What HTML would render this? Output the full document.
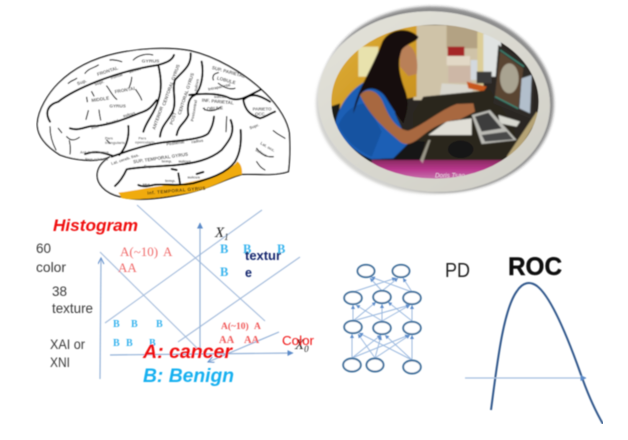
<!DOCTYPE html>
<html><head><meta charset="utf-8"><style>
html,body{margin:0;padding:0;background:#fff}
svg{display:block}
text{font-family:"Liberation Sans",sans-serif}
.s{font-family:"Liberation Serif",serif}
</style></head><body>
<svg width="628" height="440" viewBox="0 0 628 440" xmlns="http://www.w3.org/2000/svg">
<defs>
<filter id="all" x="0" y="0" width="100%" height="100%"><feGaussianBlur stdDeviation="0.4"/></filter>
<filter id="b1" x="-5%" y="-5%" width="110%" height="110%"><feGaussianBlur stdDeviation="1.5"/></filter>
<filter id="b3" x="-20%" y="-20%" width="140%" height="140%"><feGaussianBlur stdDeviation="4"/></filter>
<clipPath id="ph"><ellipse cx="405" cy="305" rx="311" ry="231"/></clipPath>
<linearGradient id="fr" x1="0" y1="0" x2="1" y2="1"><stop offset="0" stop-color="#e4e3da"/><stop offset="1" stop-color="#cfcec6"/></linearGradient>
<linearGradient id="mag" x1="0" y1="0" x2="0" y2="1"><stop offset="0" stop-color="#8a2a60"/><stop offset="0.45" stop-color="#b7368c"/><stop offset="1" stop-color="#c878b0"/></linearGradient>
<linearGradient id="ylw" x1="0" y1="0" x2="1" y2="1"><stop offset="0" stop-color="#e0b03a"/><stop offset="1" stop-color="#c8901c"/></linearGradient>
<marker id="a" markerWidth="7" markerHeight="7" refX="5.5" refY="3" orient="auto" markerUnits="userSpaceOnUse"><path d="M0,0L6,3L0,6z" fill="#5b8bc9"/></marker>
<marker id="n" markerWidth="5" markerHeight="5" refX="4" refY="2" orient="auto" markerUnits="userSpaceOnUse"><path d="M0,0L4,2L0,4z" fill="#5b8bc9"/></marker>
<marker id="o" markerWidth="9" markerHeight="8" refX="7" refY="3" orient="auto" markerUnits="userSpaceOnUse"><path d="M1,0L7,3L1,6" fill="none" stroke="#5b8bc9" stroke-width="1"/></marker>
</defs>
<g filter="url(#all)">
<!-- Brain -->
<g transform="translate(30,0) scale(.33333)">
<path d="M240,470C200,490 130,480 90,465C50,440 20,410 22,370C24,330 55,280 85,250C130,205 190,175 260,160C330,145 410,140 480,152C560,170 640,220 690,265C730,300 770,350 778,400C780,440 780,480 775,515C730,530 670,520 636,523C590,535 540,565 470,580C400,595 320,605 270,590C225,580 198,550 202,520C205,495 225,480 240,470Z" fill="#fff" stroke="#111" stroke-width="4"/>
<path d="M265,578C320,572 380,556 450,552C510,540 590,525 622,484C632,490 638,505 636,523C590,532 560,560 480,578C420,590 310,604 275,594Z" fill="#f0ab0f"/>
<g fill="none" stroke="#000" stroke-width="6" stroke-linecap="round" stroke-linejoin="round">
<path d="M60,365C45,340 50,315 85,305C130,270 250,215 385,195C400,190 425,185 432,165"/>
<path d="M385,195C395,240 395,270 385,300C375,340 350,360 340,395"/>
<path d="M482,160C485,200 455,215 435,240C425,270 440,300 430,330C420,360 395,370 390,410"/>
<path d="M515,185C522,220 515,265 495,285C480,290 470,310 475,345C465,370 445,375 440,405"/>
<path d="M478,285C520,280 570,280 600,295C630,305 650,290 690,270"/>
<path d="M640,300C660,280 680,280 720,305M640,300C645,330 660,345 690,355C710,350 720,340 735,335"/>
<path d="M120,385C150,395 170,375 200,378C260,370 300,350 340,335C355,330 365,320 380,300"/>
<path d="M245,470C300,450 360,430 420,425C470,420 520,415 535,400C545,385 550,370 552,350"/>
<path d="M602,360C618,400 595,425 575,450C540,480 490,490 440,495C390,500 330,500 290,508C280,530 270,545 255,558"/>
<path d="M632,390C635,430 630,460 615,485C590,520 540,535 490,550C440,560 400,550 370,555C350,560 335,560 325,555"/>
<path d="M250,468C225,460 200,450 165,462"/>
<path d="M295,378C298,410 290,440 268,465"/>
<path d="M500,522L520,516M425,507L440,510M445,520L450,550"/>
</g>
<g fill="none" stroke="#111" stroke-width="3.5" stroke-linecap="round">
<path d="M115,250C125,240 135,240 140,235M165,220C175,205 190,205 205,195M240,180C255,178 265,182 275,185M310,180C325,165 350,160 368,165"/>
<path d="M230,258C240,270 245,285 260,298M305,232C305,245 300,255 298,262M318,270C328,285 332,290 335,300"/>
<path d="M175,332C172,345 170,350 168,358M207,330C208,340 210,350 212,360M185,275L192,288M170,292L172,305"/>
<path d="M85,385L95,398M110,410C120,420 130,425 148,412M118,422C122,440 122,450 120,462M60,380C60,410 70,435 78,450"/>
<path d="M550,240C545,225 555,220 565,218M565,250C585,265 600,270 615,265M590,350L588,395"/>
<path d="M730,392C745,405 755,408 765,415M680,445C695,465 710,472 730,470M680,485C690,500 695,505 705,510"/>
<path d="M520,325C530,335 555,335 570,322M230,420L240,430"/>
</g>
<g fill="#555" font-size="14" font-weight="bold">
<text x="335" y="187" font-size="15">GYRUS</text>
<text x="203" y="228" transform="rotate(-18 203 228)">FRONTAL</text>
<text x="143" y="256" transform="rotate(-20 143 256)">Sup.</text>
<text x="195" y="257" font-size="12" transform="rotate(-18 195 257)">Supr.</text>
<text x="243" y="238" font-size="12" transform="rotate(-18 243 238)">frontal</text>
<text x="298" y="220" font-size="12" transform="rotate(-18 298 220)">sulcus</text>
<text x="185" y="306" transform="rotate(-8 185 306)">MIDDLE</text>
<text x="255" y="280" transform="rotate(-10 255 280)">FRONTAL</text>
<text x="238" y="322">GYRUS</text>
<text x="185" y="388" font-size="12" transform="rotate(-15 185 388)">Infr.</text>
<text x="230" y="375" font-size="12" transform="rotate(-15 230 375)">frontal</text>
<text x="280" y="352" font-size="12" transform="rotate(-15 280 352)">sulcus</text>
<text x="405" y="318" transform="rotate(-70 405 318)">CENTORAL GYRUS</text>
<text x="452" y="345" transform="rotate(-72 452 345)">CENTORAL GYRUS</text>
<text x="375" y="390" transform="rotate(-70 375 390)">ANTERIOR</text>
<text x="428" y="375" transform="rotate(-72 428 375)">POST</text>
<text x="490" y="365" font-size="12" transform="rotate(-80 490 365)">Postcentral</text>
<text x="500" y="275" font-size="12" transform="rotate(-80 500 275)">sulcus</text>
<text x="545" y="207" transform="rotate(15 545 207)">SUP. PARIETAL</text>
<text x="560" y="238" transform="rotate(15 560 238)">LOBULE</text>
<text x="535" y="272" font-size="12" transform="rotate(-12 535 272)">Intraparietal</text>
<text x="552" y="294" font-size="12">sulcus</text>
<text x="515" y="305" transform="rotate(5 515 305)">INF. PARIETAL</text>
<text x="522" y="332" transform="rotate(-4 522 332)">LOBULE</text>
<text x="668" y="332" font-size="13">PARIETO</text>
<text x="675" y="346" font-size="13">OCC.</text>
<text x="660" y="388" font-size="12" transform="rotate(-20 660 388)">Supr.</text>
<text x="690" y="432" font-size="12" transform="rotate(30 690 432)">Lat. occ.</text>
<text x="675" y="452" font-size="12" transform="rotate(30 675 452)">sulcus</text>
<text x="410" y="437" font-size="12" transform="rotate(-8 410 437)">Postlerial</text>
<text x="485" y="430" font-size="12" transform="rotate(-8 485 430)">radius</text>
<text x="245" y="495" font-size="12" transform="rotate(-18 245 495)">Lat. cereb. fiss.</text>
<text x="310" y="490" transform="rotate(-8 310 490)">SUP. TEMPORAL GYRUS</text>
<text x="342" y="502" font-size="12">Supr.</text>
<text x="395" y="487" font-size="12">temp.</text>
<text x="445" y="487" font-size="12">sulcus</text>
<text x="338" y="558" font-size="12">Mid.</text>
<text x="405" y="546" font-size="12">temp.</text>
<text x="472" y="535" font-size="12">sulcus</text>
<text x="150" y="460" font-size="11" fill="#777">Ant. horz. ramus</text>
<text x="165" y="482" font-size="11" fill="#777">Pars orbitalis</text>
<text x="225" y="418" font-size="11" fill="#777">Pars</text>
<text x="225" y="432" font-size="11" fill="#777">triangularis</text>
<text x="325" y="418" font-size="11" fill="#777">Pars</text>
<text x="315" y="430" font-size="11" fill="#777">opercularis</text>
</g>
<text x="352" y="584" font-size="14" font-weight="bold" fill="#4a3a10" transform="rotate(-5 352 584)" textLength="175">Inf. TEMPORAL GYRUS</text>
</g>

<!-- Photo -->
<g transform="translate(300,0) scale(.33333)">
<ellipse cx="412" cy="298" rx="350" ry="278" fill="#333" opacity=".55" filter="url(#b3)" transform="rotate(6 412 298)"/>
<ellipse cx="398" cy="310" rx="350" ry="272" fill="#9b9b95" opacity=".45" filter="url(#b3)"/>
<ellipse cx="402" cy="305" rx="348" ry="270" fill="url(#fr)" transform="rotate(4 402 305)"/>
<g clip-path="url(#ph)">
<g filter="url(#b1)">
<rect x="90" y="70" width="630" height="470" fill="#2a2620"/>
<rect x="340" y="75" width="210" height="225" fill="#cfc3a8"/>
<rect x="440" y="75" width="95" height="70" fill="#b3a283"/>
<rect x="548" y="100" width="55" height="130" fill="#e0e3e2"/>
<rect x="532" y="95" width="18" height="180" fill="#dccd98"/>
<path d="M90,340L90,190L250,90L350,70L350,290Z" fill="url(#ylw)"/>
<rect x="175" y="140" width="60" height="90" fill="#e8e2ad"/>
<rect x="443" y="140" width="50" height="28" fill="#a52525"/>
<rect x="440" y="168" width="70" height="28" fill="#e2d8c6"/>
<rect x="445" y="198" width="70" height="50" fill="#cdb7a6"/>
<rect x="512" y="180" width="20" height="60" fill="#d3d9de"/>
<rect x="530" y="215" width="45" height="35" fill="#3a3a3a"/>
<path d="M425,250L515,255L520,280L420,285Z" fill="#d9d7ce"/>
<path d="M500,245L560,260L550,275L505,265Z" fill="#c8591e"/>
<path d="M370,290L570,270L640,380L660,480L340,480L340,340Z" fill="#29251f"/>
<path d="M595,135L680,185L705,200L700,360L580,310Z" fill="#2d2a27"/>
<path d="M600,155L670,205L655,325L585,290Z" fill="#5a4533"/>
<ellipse cx="628" cy="235" rx="28" ry="45" fill="#a9a391"/>
<path d="M665,235L695,225L690,340L658,325Z" fill="#b2bfcc"/>
<path d="M600,150L672,200" stroke="#3d8a78" stroke-width="4" fill="none"/>
<path d="M585,290L655,326" stroke="#3d8a78" stroke-width="4" fill="none"/>
<path d="M595,345L660,365L650,380L600,370Z" fill="#d8d8d0"/>
<path d="M515,345L570,330L650,420L545,432Z" fill="#bcbbb5"/>
<path d="M525,350L565,338L605,385L545,395Z" fill="#3c3c3c"/>
<path d="M545,405L620,395L640,418L555,425Z" fill="#484848"/>
<path d="M385,405L440,365L515,355L515,405Z" fill="#e0ded6"/>
<ellipse cx="482" cy="448" rx="38" ry="26" fill="#131313"/>
<path d="M150,480L360,480L375,425L300,420L280,450Z" fill="#171717"/>
<path d="M90,320L120,310L115,375L90,375Z" fill="#1c1a14"/>
<path d="M105,375C115,310 160,250 240,225L285,250L285,340L325,430L280,475L215,478C170,460 125,425 105,375Z" fill="#1a5fb5"/>
<path d="M115,375C135,330 170,310 200,310L245,395L215,470C170,450 135,420 115,375Z" fill="#12498f" opacity=".55"/>
<path d="M180,285C200,260 235,270 250,310C270,360 295,390 325,392C370,375 420,330 470,312L520,310L525,335L480,358C440,360 400,380 370,405C340,430 320,440 300,425C260,390 210,350 180,285Z" fill="#a8673f"/>
<path d="M300,130C340,125 358,170 350,222L325,228L300,200Z" fill="#b98058"/>
<path d="M160,340C165,280 215,210 245,130C260,90 320,75 355,110C355,125 320,130 305,150C290,190 300,230 315,270C330,310 320,340 310,370C295,350 280,330 262,300C240,260 200,255 180,285Z" fill="#14100f"/>
<path d="M215,480H620V540H215Z" fill="url(#mag)"/>
<path d="M360,480L385,420L392,420L368,490Z" fill="#c9c4b4" opacity=".7"/>
<path d="M620,470L710,335L720,345L640,480Z" fill="#d8c38a" opacity=".8"/>
</g>
<text x="405" y="533" font-size="19" font-style="italic" fill="#ecdce8">Doris Tsao</text>
</g>
</g>

<!-- Diagram lines -->
<g fill="none" stroke="#a4bcdc" stroke-width="1.1">
<path d="M137,205L265,321"/>
<path d="M100,252L197,348"/>
<path d="M105,323L262,210"/>
<path d="M178,342L300,257"/>
</g>
<g fill="none" stroke="#94b2d8" stroke-width="1.2">
<path d="M100,379L101,258" marker-end="url(#o)"/>
<path d="M200,350L200,223" marker-end="url(#a)"/>
<path d="M110,355L293,353" marker-end="url(#a)"/>
<path d="M279,332L208,362" marker-end="url(#o)"/>
</g>

<!-- Diagram text -->
<text x="53" y="231" font-size="17" font-weight="bold" font-style="italic" fill="#f01010" textLength="85" lengthAdjust="spacingAndGlyphs">Histogram</text>
<g font-size="14" fill="#3a3a3a">
<text x="36" y="253" textLength="15" lengthAdjust="spacingAndGlyphs">60</text>
<text x="36" y="272" textLength="30" lengthAdjust="spacingAndGlyphs">color</text>
<text x="52" y="296" textLength="15" lengthAdjust="spacingAndGlyphs">38</text>
<text x="52" y="313" textLength="41" lengthAdjust="spacingAndGlyphs">texture</text>
<text x="50" y="349" textLength="35" lengthAdjust="spacingAndGlyphs">XAI or</text>
<text x="50" y="367" textLength="20" lengthAdjust="spacingAndGlyphs">XNI</text>
</g>
<g fill="#f06a6a" font-size="13">
<text class="s" x="120" y="256">A(~10)</text><text class="s" x="163" y="256">A</text>
<text class="s" x="118" y="272">AA</text>
</g>
<g fill="#f05a5a" font-size="9.5" font-weight="bold">
<text class="s" x="221" y="329">A(~10)</text><text class="s" x="254" y="329">A</text>
<text class="s" x="219" y="343" font-size="10.5">AA</text><text class="s" x="244" y="343" font-size="10.5">AA</text>
</g>
<g fill="#38b4ee" font-size="10" font-weight="bold">
<text class="s" x="113" y="327">B</text><text class="s" x="131" y="327">B</text><text class="s" x="156" y="327">B</text>
<text class="s" x="113" y="346">B</text><text class="s" x="126" y="346">B</text><text class="s" x="149" y="346">B</text>
</g>
<g fill="#38b4ee" font-size="12.5" font-weight="bold">
<text class="s" x="220" y="253">B</text><text class="s" x="243" y="253">B</text><text class="s" x="277" y="253">B</text>
<text class="s" x="220" y="276">B</text>
</g>
<g fill="#14286e" font-size="12.5" font-weight="bold">
<text x="245" y="260" textLength="36" lengthAdjust="spacingAndGlyphs">textur</text>
<text x="245" y="277">e</text>
</g>
<text class="s" x="215" y="237" font-size="15" font-style="italic" fill="#222">X<tspan font-size="9" dy="3">1</tspan></text>
<text class="s" x="295" y="349" font-size="15" font-style="italic" fill="#222">X<tspan font-size="9" dy="3">0</tspan></text>
<text x="282" y="345" font-size="12.5" fill="#f01010" textLength="32" lengthAdjust="spacingAndGlyphs">Color</text>
<text x="143" y="358" font-size="19.5" font-weight="bold" font-style="italic" fill="#f01010" textLength="89" lengthAdjust="spacingAndGlyphs">A: cancer</text>
<text x="143" y="382" font-size="19.5" font-weight="bold" font-style="italic" fill="#18b0f0" textLength="91" lengthAdjust="spacingAndGlyphs">B: Benign</text>

<!-- Network -->
<g fill="none" stroke="#9bb9df" stroke-width="1">
<path d="M353,292L396,278" marker-end="url(#n)"/>
<path d="M382,291L370,278" marker-end="url(#n)"/>
<path d="M382,291L398,278" marker-end="url(#n)"/>
<path d="M412,292L403,278" marker-end="url(#n)"/>
<path d="M412,292L371,277" marker-end="url(#n)"/>
<path d="M353,321L353,305" marker-end="url(#n)"/>
<path d="M353,321L376,302" marker-end="url(#n)"/>
<path d="M353,321L410,305" marker-end="url(#n)"/>
<path d="M382,321L382,304" marker-end="url(#n)"/>
<path d="M382,321L356,305" marker-end="url(#n)"/>
<path d="M382,321L410,305" marker-end="url(#n)"/>
<path d="M412,321L412,305" marker-end="url(#n)"/>
<path d="M412,321L388,302" marker-end="url(#n)"/>
<path d="M352,358L352,334" marker-end="url(#n)"/>
<path d="M352,358L381,335" marker-end="url(#n)"/>
<path d="M352,358L409,335" marker-end="url(#n)"/>
<path d="M375,358L381,336" marker-end="url(#n)"/>
<path d="M375,358L358,334" marker-end="url(#n)"/>
<path d="M375,358L410,335" marker-end="url(#n)"/>
<path d="M412,360L412,335" marker-end="url(#n)"/>
<path d="M412,360L359,333" marker-end="url(#n)"/>
<path d="M412,360L385,335" marker-end="url(#n)"/>
</g>
<g fill="#fff" stroke="#41719c" stroke-width="1.9">
<ellipse cx="366" cy="271" rx="8.5" ry="6.2"/><ellipse cx="401" cy="271" rx="8.5" ry="6.2"/>
<ellipse cx="353" cy="298" rx="8.8" ry="6.2"/><ellipse cx="382" cy="297" rx="8.8" ry="6.2"/><ellipse cx="412" cy="298" rx="8.8" ry="6.2"/>
<ellipse cx="353" cy="327" rx="8.8" ry="6.2"/><ellipse cx="382" cy="328" rx="8.8" ry="6.2"/><ellipse cx="412" cy="328" rx="8.8" ry="6.2"/>
<ellipse cx="352" cy="365" rx="8.8" ry="6.5"/><ellipse cx="375" cy="365" rx="8.5" ry="6.5"/><ellipse cx="412" cy="367" rx="8.8" ry="6.5"/>
</g>

<!-- ROC -->
<text x="445" y="277" font-size="20.5" fill="#222" textLength="25" lengthAdjust="spacingAndGlyphs">PD</text>
<text x="508" y="275" font-size="25" font-weight="bold" fill="#111" stroke="#111" stroke-width=".4" textLength="54" lengthAdjust="spacingAndGlyphs">ROC</text>
<path d="M491,410C497,365 503,310 517,291C523,282 530,281 537,286C550,296 565,330 580,372C588,395 596,412 603,424" fill="none" stroke="#33598c" stroke-width="2"/>
<path d="M465,378L586,378" fill="none" stroke="#a4bfe0" stroke-width="1.2" marker-end="url(#a)"/>
</g>
</svg>
</body></html>
